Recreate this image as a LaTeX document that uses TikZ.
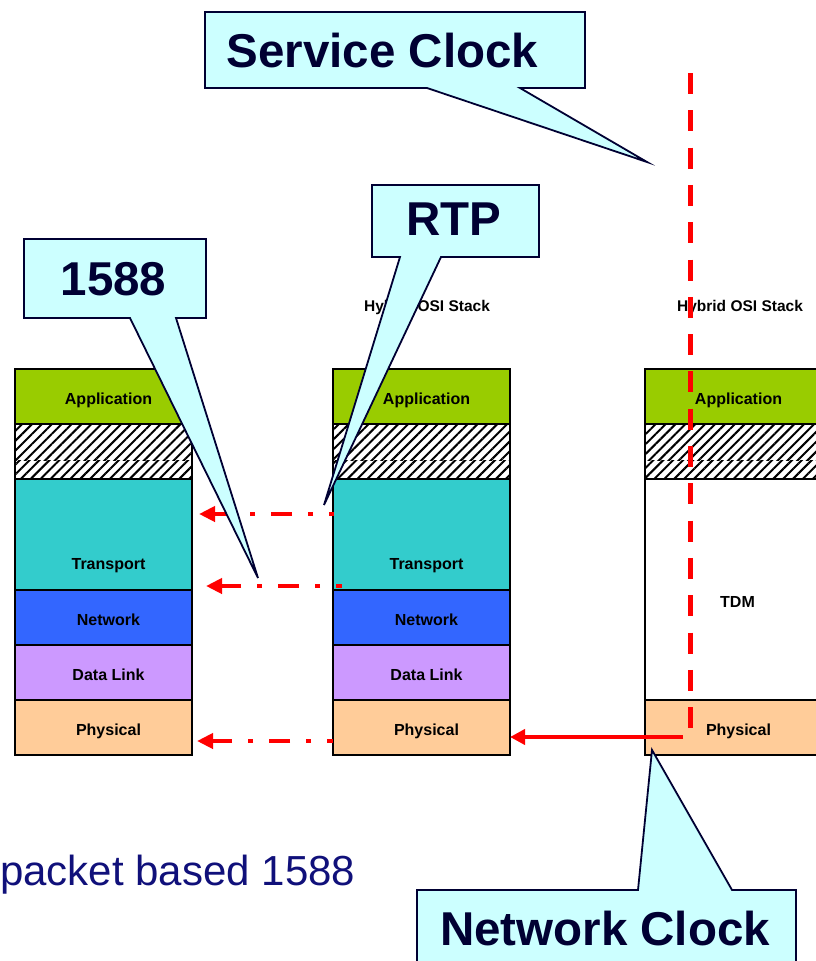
\documentclass[tikz,border=0pt]{standalone}
\usepackage{fontspec}
\setmainfont{Liberation Sans}
\usetikzlibrary{arrows.meta,patterns.meta}

\definecolor{appgreen}{HTML}{99CC00}
\definecolor{transcyan}{HTML}{33CCCC}
\definecolor{netblue}{HTML}{3366FF}
\definecolor{linkviolet}{HTML}{CC99FF}
\definecolor{physpeach}{HTML}{FFCC99}
\definecolor{calloutfill}{HTML}{CCFFFF}
\definecolor{calloutink}{HTML}{000033}
\definecolor{noteblue}{HTML}{10107A}

\tikzset{
  layerline/.style={draw=black, line width=2pt},
  layertext/.style={font=\fontsize{16}{18}\selectfont\bfseries, inner sep=0pt, anchor=base},
  stacktitle/.style={font=\fontsize{15.5}{18}\selectfont\bfseries, inner sep=0pt, anchor=base},
  callout/.style={fill=calloutfill, draw=calloutink, line width=1.8pt},
  callouttext/.style={font=\fontsize{47.5}{52}\selectfont\bfseries, text=calloutink, inner sep=0pt, anchor=base},
  hatchupper/.style={pattern={Lines[angle=45,distance=7pt,line width=2pt]}},
  hatchlower/.style={pattern={Lines[angle=45,distance=7pt,line width=2pt,xshift=4pt]}},
  timingpath/.style={red, line width=4.5pt, dash pattern=on 21pt off 16pt on 5pt off 16pt,
    -{Triangle[length=16pt,width=15pt]}},
  clockline/.style={red, line width=5pt, dash pattern=on 21pt off 16.3pt},
  clockarrow/.style={red, line width=4.5pt, -{Triangle[length=15pt,width=15pt]}},
}

\begin{document}
\begin{tikzpicture}[x=1pt, y=-1pt]
\useasboundingbox (0,0) rectangle (815,961);

% ---- the two packet stacks (left and middle) ----
\foreach \x/\s in {15/L, 333/M} {
  \fill[appgreen]   (\x,369) rectangle ++(177,55);
  \fill[white]      (\x,424) rectangle ++(177,55);
  \fill[hatchupper] (\x,424) rectangle ++(177,36);
  \fill[hatchlower] (\x,460) rectangle ++(177,19);
  \fill[transcyan]  (\x,479) rectangle ++(177,111);
  \fill[netblue]    (\x,590) rectangle ++(177,55);
  \fill[linkviolet] (\x,645) rectangle ++(177,55);
  \fill[physpeach]  (\x,700) rectangle ++(177,55);
  \draw[layerline]  (\x,369) rectangle ++(177,386);
  \foreach \yy in {424,479,590,645,700}
    \draw[layerline] (\x,\yy) -- ++(177,0);
  \node[layertext] (\s app)  at (\x+93.5,404) {Application};
  \node[layertext] (\s tra)  at (\x+93.5,569) {Transport};
  \node[layertext] (\s net)  at (\x+93.5,625) {Network};
  \node[layertext] (\s link) at (\x+93.5,680) {Data Link};
  \node[layertext] (\s phy)  at (\x+93.5,735) {Physical};
}

% ---- the hybrid stack with a TDM section (right) ----
\fill[appgreen]   (645,369) rectangle ++(177,55);
\fill[white]      (645,424) rectangle ++(177,55);
\fill[hatchupper] (645,424) rectangle ++(177,36);
\fill[hatchlower] (645,460) rectangle ++(177,19);
\fill[physpeach]  (645,700) rectangle ++(177,55);
\draw[layerline]  (645,369) rectangle ++(177,386);
\foreach \yy in {424,479,700}
  \draw[layerline] (645,\yy) -- ++(177,0);
\node[layertext] (Rapp) at (738.5,404) {Application};
\node[layertext] (Rtdm) at (737.5,607) {TDM};
\node[layertext] (Rphy) at (738.5,735) {Physical};

% ---- stack titles ----
\node[stacktitle] (Mtitle) at (427,311) {Hybrid OSI Stack};
\node[stacktitle] (Rtitle) at (740,311) {Hybrid OSI Stack};

% ---- timing transfer paths ----
\coordinate (m1) at (334,514);  \coordinate (l1) at (199,514);
\coordinate (m2) at (342,586);  \coordinate (l2) at (206,586);
\coordinate (m3) at (333,741);  \coordinate (l3) at (197,741);
\draw[timingpath, dash phase=16pt] (m1) -- (l1);
\draw[timingpath, dash phase=15pt] (m2) -- (l2);
\draw[timingpath, dash phase=15pt] (m3) -- (l3);

\coordinate (svcTop) at (690,73);
\coordinate (svcBot) at (690,728);
\draw[clockline] (svcTop) -- (svcBot);

\coordinate (tdmPhy) at (683,737);
\coordinate (midPhy) at (510,737);
\draw[clockarrow] (tdmPhy) -- (midPhy);

% ---- callouts ----
\draw[callout] (205,12) -- (585,12) -- (585,88) -- (520,88) -- (647,162)
  -- (427,88) -- (205,88) -- cycle;
\node[callouttext] (svc) at (382.5,67) {Service Clock};

\draw[callout] (372,185) -- (539,185) -- (539,257) -- (441,257) -- (324,505)
  -- (400,257) -- (372,257) -- cycle;
\node[callouttext] (rtp) at (453.5,235) {RTP};

\draw[callout] (24,239) -- (206,239) -- (206,318) -- (176,318) -- (258,578)
  -- (130,318) -- (24,318) -- cycle;
\node[callouttext] (ptp) at (113.5,295) {1588};

\draw[callout] (417,890) -- (638,890) -- (652,750) -- (732,890) -- (796,890)
  -- (796,975) -- (417,975) -- cycle;
\node[callouttext] (net) at (605,945) {Network Clock};

% ---- note ----
\node[font=\fontsize{42}{46}\selectfont, text=noteblue, inner sep=0pt, anchor=base west]
  (note) at (0,885) {packet based 1588};
\end{tikzpicture}
\end{document}
